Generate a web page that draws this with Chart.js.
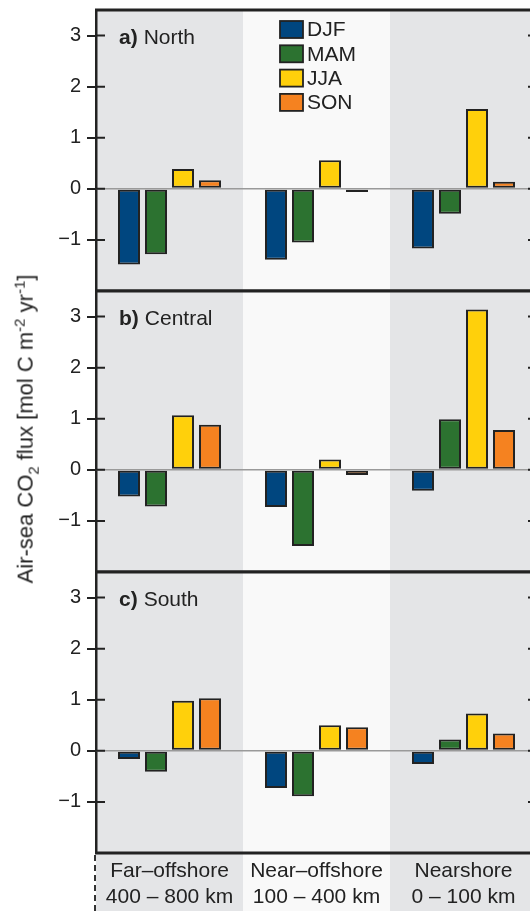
<!DOCTYPE html>
<html>
<head>
<meta charset="utf-8">
<script src="https://cdn.jsdelivr.net/npm/chart.js@4"></script>
<style>
  html, body { margin: 0; padding: 0; background: #fff; overflow: hidden; width: 530px; height: 911px; }
  .panel { position: absolute; left: 0; }
  #ylabel {
    position: absolute; left: 26px; top: 429px;
    transform: translate(-50%, -50%) rotate(-90deg);
    white-space: nowrap; color: #222;
    font: 22px "Liberation Sans", Arial, Helvetica, sans-serif;
  }
  #ylabel sub, #ylabel sup { font-size: 15px; }
</style>
</head>
<body>
<canvas id="north" class="panel" width="560" height="300" style="top:0px"></canvas>
<canvas id="central" class="panel" width="560" height="300" style="top:281px"></canvas>
<canvas id="south" class="panel" width="560" height="349" style="top:562px"></canvas>
<div id="ylabel">Air-sea CO<sub>2</sub> flux [mol C m<sup>-2</sup> yr<sup>-1</sup>]</div>
<script>
const categories = [["Far\u2013offshore", "400 \u2013 800 km"], ["Near\u2013offshore", "100 \u2013 400 km"], ["Nearshore", "0 \u2013 100 km"]];
const seasons = ["DJF", "MAM", "JJA", "SON"];
const yTicks = [-1, 0, 1, 2, 3];

// a) North
const northDJF = [-1.48, -1.39, -1.17];
const northMAM = [-1.28, -1.05, -0.49];
const northJJA = [0.39, 0.56, 1.56];
const northSON = [0.17, -0.06, 0.14];

// b) Central
const centralDJF = [-0.52, -0.73, -0.41];
const centralMAM = [-0.72, -1.49, 0.99];
const centralJJA = [1.07, 0.20, 3.14];
const centralSON = [0.88, -0.10, 0.78];

// c) South
const southDJF = [-0.16, -0.73, -0.26];
const southMAM = [-0.41, -0.89, 0.22];
const southJJA = [0.98, 0.50, 0.73];
const southSON = [1.03, 0.46, 0.34];

const colors = ["#00467f", "#2c7230", "#ffd00b", "#f58220"];
const ink = "#222";
const bandGray = "#e4e5e7";
const bandLight = "#f9f9f9";
const family = '"Liberation Sans", Arial, Helvetica, sans-serif';

const panelDecor = {
  id: "panelDecor",
  beforeDraw(chart, args, opts) {
    const { ctx, chartArea: a, scales: { x } } = chart;
    const half = (x.getPixelForValue(1) - x.getPixelForValue(0)) / 2;
    const bottom = opts.footer ? chart.height : a.bottom;
    ctx.save();
    categories.forEach((c, i) => {
      const cx = x.getPixelForValue(i);
      ctx.fillStyle = i === 1 ? bandLight : bandGray;
      ctx.fillRect(cx - half, a.top, half * 2, bottom - a.top);
    });
    ctx.restore();
  },
  beforeDatasetsDraw(chart) {
    const { ctx, chartArea: a, scales: { y } } = chart;
    const y0 = y.getPixelForValue(0);
    ctx.save();
    ctx.strokeStyle = "#9a9a9a";
    ctx.lineWidth = 1.5;
    ctx.beginPath();
    ctx.moveTo(a.left, y0);
    ctx.lineTo(a.right, y0);
    ctx.stroke();
    ctx.restore();
  },
  afterDraw(chart, args, opts) {
    const { ctx, chartArea: a, scales: { y } } = chart;
    ctx.save();
    ctx.strokeStyle = ink;
    // frame
    ctx.lineWidth = 3;
    ctx.beginPath();
    ctx.moveTo(a.left - 1, a.top); ctx.lineTo(a.right, a.top);
    ctx.moveTo(a.left - 1, a.bottom); ctx.lineTo(a.right, a.bottom);
    ctx.stroke();
    ctx.lineWidth = 2.5;
    ctx.beginPath();
    ctx.moveTo(a.right, a.top); ctx.lineTo(a.right, a.bottom);
    ctx.stroke();
    // inner tick marks
    ctx.lineWidth = 2;
    ctx.beginPath();
    yTicks.forEach(v => {
      const py = y.getPixelForValue(v);
      ctx.moveTo(a.left, py); ctx.lineTo(a.left + 9, py);
      ctx.moveTo(a.right - 9, py); ctx.lineTo(a.right, py);
    });
    ctx.stroke();
    // panel title
    ctx.fillStyle = ink;
    ctx.textBaseline = "alphabetic";
    ctx.textAlign = "left";
    ctx.font = "bold 21px " + family;
    ctx.fillText(opts.letter, a.left + 23, a.top + 34);
    const w = ctx.measureText(opts.letter).width;
    ctx.font = "21px " + family;
    ctx.fillText(opts.title, a.left + 23 + w + 6, a.top + 34);
    // legend
    if (opts.legend) {
      chart.data.datasets.forEach((ds, i) => {
        const cy = a.top + 19.5 + i * 24.3;
        ctx.fillStyle = ds.backgroundColor;
        ctx.fillRect(280, cy - 8.5, 23, 17);
        ctx.lineWidth = 1.8;
        ctx.strokeStyle = ink;
        ctx.strokeRect(280, cy - 8.5, 23, 17);
        ctx.fillStyle = ink;
        ctx.font = "21px " + family;
        ctx.textBaseline = "middle";
        ctx.fillText(ds.label, 307, cy + 1);
      });
    }
    // dashed axis continuation under the last panel
    if (opts.footer) {
      ctx.strokeStyle = "#333";
      ctx.lineWidth = 2;
      ctx.setLineDash([6, 4]);
      ctx.beginPath();
      ctx.moveTo(a.left - 1, a.bottom + 2);
      ctx.lineTo(a.left - 1, chart.height);
      ctx.stroke();
    }
    ctx.restore();
  }
};

function makePanel(id, letter, title, values, legend, footer) {
  return new Chart(document.getElementById(id).getContext("2d"), {
    type: "bar",
    data: {
      labels: categories,
      datasets: seasons.map((s, i) => ({
        label: s,
        data: values[i],
        backgroundColor: colors[i],
        borderColor: ink,
        borderWidth: 2,
        borderSkipped: false,
        categoryPercentage: 0.735,
        barPercentage: 0.815
      }))
    },
    options: {
      responsive: false,
      animation: false,
      devicePixelRatio: 1,
      layout: { padding: { top: 10, bottom: footer ? 0 : 9, left: 0, right: 23 } },
      plugins: {
        legend: { display: false },
        tooltip: { enabled: false },
        panelDecor: { letter: letter, title: title, legend: legend, footer: footer }
      },
      scales: {
        x: {
          display: footer,
          grid: { display: false },
          border: { display: false },
          ticks: {
            color: ink,
            font: { family: family, size: 21, lineHeight: 1.2 },
            padding: -2,
            maxRotation: 0,
            autoSkip: false
          },
          afterFit: s => { if (footer) s.height = 58; s.paddingLeft = 0; s.paddingRight = 0; }
        },
        y: {
          min: -2,
          max: 3.5,
          afterBuildTicks: s => { s.ticks = yTicks.map(v => ({ value: v })); },
          afterFit: s => { s.width = 96; s.paddingTop = 0; s.paddingBottom = 0; },
          grid: { drawOnChartArea: false, drawTicks: true, tickLength: 9, color: ink, lineWidth: 2 },
          border: { display: true, color: ink, width: 2.5 },
          ticks: {
            color: ink,
            padding: 6,
            font: { family: family, size: 20 },
            callback: v => v < 0 ? "\u2212" + Math.abs(v) : String(v)
          }
        }
      }
    },
    plugins: [panelDecor]
  });
}

makePanel("north", "a)", "North", [northDJF, northMAM, northJJA, northSON], true, false);
makePanel("central", "b)", "Central", [centralDJF, centralMAM, centralJJA, centralSON], false, false);
makePanel("south", "c)", "South", [southDJF, southMAM, southJJA, southSON], false, true);
</script>
</body>
</html>
